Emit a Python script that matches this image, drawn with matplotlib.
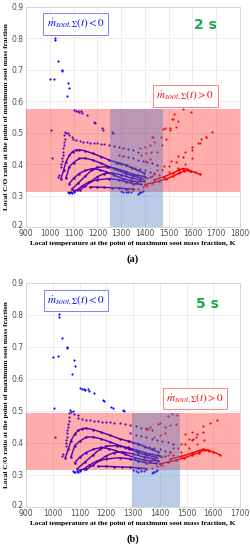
import matplotlib.pyplot as plt
import matplotlib.transforms as mtransforms

plt.rcParams['mathtext.fontset'] = 'stix'

# ---- shared blue data (T in K, local C/O ratio) ----
blue_pts = [(1000, 0.670), (1019, 0.671), (1022, 0.802), (1022, 0.795), (1036, 0.729),
            (1053, 0.700), (1053, 0.697), (1078, 0.659), (1082, 0.642), (1072, 0.616),
            (1103, 0.572), (1110, 0.570), (1118, 0.568), (1122, 0.566), (1132, 0.570),
            (1135, 0.562), (1155, 0.556), (1187, 0.534), (1190, 0.530), (1218, 0.514),
            (1225, 0.510), (1262, 0.503), (1267, 0.500),
            (1004, 0.508), (1008, 0.418), (1060, 0.494), (1065, 0.503), (1070, 0.498),
            (1075, 0.500), (1080, 0.492), (1095, 0.487)]
blue_dotted = [(1096, 0.479), (1110, 0.476), (1125, 0.473), (1140, 0.471), (1155, 0.469),
               (1170, 0.468), (1185, 0.467), (1200, 0.466), (1215, 0.465), (1230, 0.463),
               (1250, 0.461), (1270, 0.458), (1290, 0.455), (1310, 0.452), (1330, 0.448),
               (1350, 0.444), (1370, 0.440)]
blue_column = [(1062, 0.480), (1060, 0.470), (1058, 0.460), (1056, 0.450), (1055, 0.440),
               (1054, 0.430), (1052, 0.420), (1050, 0.410), (1049, 0.400), (1048, 0.390),
               (1040, 0.365), (1035, 0.358)]
blue_mid = [(1290, 0.430), (1310, 0.426), (1330, 0.422), (1350, 0.418), (1370, 0.414),
            (1390, 0.410), (1410, 0.406), (1430, 0.402), (1450, 0.398),
            (1280, 0.405), (1300, 0.400), (1320, 0.396), (1340, 0.392), (1360, 0.388),
            (1380, 0.384), (1400, 0.380), (1420, 0.376), (1440, 0.372),
            (1270, 0.385), (1295, 0.380), (1320, 0.375), (1345, 0.370), (1370, 0.366),
            (1395, 0.362), (1420, 0.358)]
blue_bottom = [(1075, 0.312), (1080, 0.308), (1085, 0.310), (1090, 0.311), (1095, 0.309),
               (1100, 0.312), (1300, 0.315), (1310, 0.312), (1320, 0.310), (1330, 0.311),
               (1340, 0.312), (1370, 0.306), (1375, 0.308), (1380, 0.310), (1385, 0.312),
               (1390, 0.315)]

arc1 = [(1047, 0.354), (1058, 0.380), (1068, 0.407), (1082, 0.428), (1096, 0.440), (1110, 0.445),
        (1124, 0.446), (1150, 0.442), (1180, 0.434), (1215, 0.424), (1250, 0.413), (1285, 0.405),
        (1320, 0.397), (1345, 0.388), (1370, 0.380), (1395, 0.372)]
arc2 = [(1068, 0.355), (1082, 0.392), (1100, 0.405), (1124, 0.418), (1150, 0.419), (1180, 0.413),
        (1215, 0.403), (1250, 0.392), (1285, 0.382), (1320, 0.370), (1350, 0.362), (1385, 0.356)]
arc3 = [(1082, 0.338), (1100, 0.355), (1124, 0.370), (1150, 0.380), (1180, 0.386), (1210, 0.382),
        (1236, 0.376), (1270, 0.365), (1306, 0.354), (1340, 0.347), (1365, 0.344), (1395, 0.345)]
arc4 = [(1100, 0.315), (1115, 0.318), (1135, 0.330), (1166, 0.344), (1200, 0.350), (1250, 0.354),
        (1290, 0.350), (1320, 0.344), (1350, 0.338), (1385, 0.336)]
arc5 = [(1092, 0.320), (1120, 0.340), (1150, 0.362), (1175, 0.380), (1200, 0.390), (1240, 0.392),
        (1280, 0.386), (1320, 0.376), (1360, 0.366), (1400, 0.360)]
arc6 = [(1125, 0.318), (1150, 0.330), (1175, 0.346), (1200, 0.360), (1230, 0.370), (1260, 0.372),
        (1300, 0.366), (1340, 0.356), (1380, 0.350)]
flat = [(1170, 0.327), (1200, 0.327), (1230, 0.326), (1260, 0.325), (1290, 0.324), (1320, 0.322),
        (1350, 0.320)]

# ---- red data, panel (a) 2 s ----
a_tail = [(1400, 0.335), (1430, 0.340), (1460, 0.346), (1490, 0.353), (1520, 0.362), (1545, 0.372),
          (1565, 0.378), (1580, 0.380), (1595, 0.378), (1610, 0.374), (1630, 0.368)]
a_tail2 = [(1440, 0.350), (1480, 0.360), (1520, 0.372), (1545, 0.382), (1560, 0.386),
           (1575, 0.384), (1590, 0.379)]
a_red_pts = [(1450, 0.380), (1480, 0.395), (1510, 0.410), (1540, 0.425), (1570, 0.440),
             (1600, 0.455), (1625, 0.468), (1655, 0.485), (1683, 0.503),
             (1440, 0.370), (1470, 0.382), (1500, 0.395), (1530, 0.408), (1560, 0.422),
             (1600, 0.445), (1630, 0.466), (1657, 0.487),
             (1460, 0.365), (1500, 0.375), (1540, 0.388), (1570, 0.400), (1600, 0.420), (1636, 0.479),
             (1450, 0.440), (1470, 0.460), (1490, 0.480), (1505, 0.510), (1517, 0.545), (1524, 0.558),
             (1559, 0.574), (1594, 0.566), (1513, 0.543), (1541, 0.537), (1530, 0.519),
             (1505, 0.516), (1475, 0.512), (1485, 0.515), (1428, 0.487), (1435, 0.487),
             (1466, 0.487), (1380, 0.450), (1400, 0.455), (1420, 0.460), (1440, 0.470),
             (1385, 0.430), (1405, 0.435), (1425, 0.440), (1400, 0.410), (1420, 0.415),
             (1330, 0.315), (1350, 0.318), (1370, 0.322), (1390, 0.327), (1410, 0.330),
             (1350, 0.340), (1370, 0.347), (1390, 0.352), (1410, 0.357), (1430, 0.362)]

# ---- red data, panel (b) 5 s ----
b_tail = [(1400, 0.335), (1430, 0.340), (1460, 0.346), (1490, 0.353), (1520, 0.362), (1545, 0.370),
          (1569, 0.378), (1585, 0.376), (1600, 0.372), (1625, 0.363)]
b_tail2 = [(1440, 0.350), (1480, 0.358), (1520, 0.368), (1545, 0.376), (1560, 0.380), (1580, 0.377)]
b_red_pts = [(1450, 0.385), (1480, 0.398), (1510, 0.412), (1540, 0.428), (1563, 0.453),
             (1588, 0.464), (1613, 0.471),
             (1440, 0.372), (1470, 0.383), (1494, 0.397), (1520, 0.410), (1537, 0.420), (1560, 0.435),
             (1450, 0.362), (1480, 0.372), (1510, 0.385), (1525, 0.413), (1540, 0.398), (1565, 0.410),
             (1494, 0.429), (1519, 0.434),
             (1432, 0.485), (1463, 0.487), (1445, 0.490), (1393, 0.460), (1400, 0.462),
             (1356, 0.445), (1362, 0.450), (1350, 0.448), (1420, 0.450), (1440, 0.455), (1460, 0.460),
             (1380, 0.420), (1400, 0.425), (1420, 0.430),
             (1330, 0.315), (1350, 0.318), (1370, 0.322), (1390, 0.327), (1410, 0.330),
             (1350, 0.340), (1370, 0.347), (1390, 0.352), (1410, 0.357), (1430, 0.362)]

blue_chains = [arc1, arc2, arc3, arc4, arc5, arc6, flat]
blue_scatter = blue_pts + blue_dotted + blue_column + blue_mid + blue_bottom

panels = [
    dict(pos=[0.104, 0.5873, 0.856, 0.4], xmax=1800, tails=[a_tail, a_tail2], red=a_red_pts,
         band=(0.31, 0.575), blue_x=(1255, 1475), time='2 s', tag='(a)',
         time_xy=(1653, 0.843), red_box=(1569, 0.617), blue_box=(1110, 0.846), tag_y=0.52),
    dict(pos=[0.104, 0.0782, 0.856, 0.4073], xmax=1700, tails=[b_tail, b_tail2], red=b_red_pts,
         band=(0.315, 0.495), blue_x=(1295, 1475), time='5 s', tag='(b)',
         time_xy=(1577, 0.834), red_box=(1532, 0.539), blue_box=(1087, 0.846), tag_y=0.011),
]

fig = plt.figure(figsize=(2.5, 5.5), dpi=100)
serif = ['Liberation Serif', 'DejaVu Serif']

for p in panels:
    ax = fig.add_axes(p['pos'])
    ax.set_xlim(900, p['xmax'])
    ax.set_ylim(0.2, 0.9)
    ax.set_xticks(range(900, p['xmax'] + 1, 100))
    ax.set_yticks([0.2, 0.3, 0.4, 0.5, 0.6, 0.7, 0.8, 0.9])
    ax.grid(color='#e6e6e6', lw=0.5)
    ax.set_axisbelow(True)
    ax.tick_params(length=0, labelsize=5.5, labelcolor='#505050', pad=1.5)
    for s in ax.spines.values():
        s.set_color('#d0d0d0')
        s.set_linewidth(0.6)
    # lift the bottom y label a little so it clears the 900 label
    lab = ax.get_yticklabels()[0]
    lab.set_transform(lab.get_transform() + mtransforms.ScaledTranslation(0, 2 / 72, fig.dpi_scale_trans))

    for ch in blue_chains:
        xs, ys = zip(*ch)
        ax.plot(xs, ys, color='#0000ff', lw=1.0, marker='o', ms=1.8, mew=0, zorder=2)
    xs, ys = zip(*blue_scatter)
    ax.scatter(xs, ys, s=2.4, color='#0000ff', lw=0, zorder=2)
    for ch in p['tails']:
        xs, ys = zip(*ch)
        ax.plot(xs, ys, color='#ff0000', lw=1.0, marker='o', ms=1.8, mew=0, zorder=2)
    xs, ys = zip(*p['red'])
    ax.scatter(xs, ys, s=2.4, color='#ff0000', lw=0, zorder=2)

    lo, hi = p['band']
    ax.axhspan(lo, hi, color='#ff0000', alpha=0.32, lw=0, zorder=3)
    ax.fill_between(p['blue_x'], 0.2, hi, color='#4472c4', alpha=0.36, lw=0, zorder=4)

    ax.text(*p['blue_box'], r'$\dot{m}_{soot,\Sigma}(t) < 0$', color='#0000ff', fontsize=8,
            ha='center', va='center', zorder=6,
            bbox=dict(boxstyle='square,pad=0.3', fc='white', ec='#8080ff', lw=0.7))
    ax.text(*p['red_box'], r'$\dot{m}_{soot,\Sigma}(t) > 0$', color='#ff0000', fontsize=8,
            ha='center', va='center', zorder=6,
            bbox=dict(boxstyle='square,pad=0.3', fc='white', ec='#ff8080', lw=0.7))
    ax.text(*p['time_xy'], p['time'], color='#1aa84a', fontsize=10, fontweight='bold',
            ha='center', va='center', zorder=6)

    ax.set_xlabel('Local temperature at the point of maximum soot mass fraction, K',
                  family=serif, fontweight='bold', fontsize=5.3, labelpad=2)
    ax.set_ylabel('Local C/O ratio at the point of maximum soot mass fraction',
                  family=serif, fontweight='bold', fontsize=5.3, labelpad=2)
    fig.text(0.53, p['tag_y'], p['tag'], family=serif, fontweight='bold', fontsize=7.5,
             ha='center', va='bottom')

fig.savefig('out.png', dpi=100)
